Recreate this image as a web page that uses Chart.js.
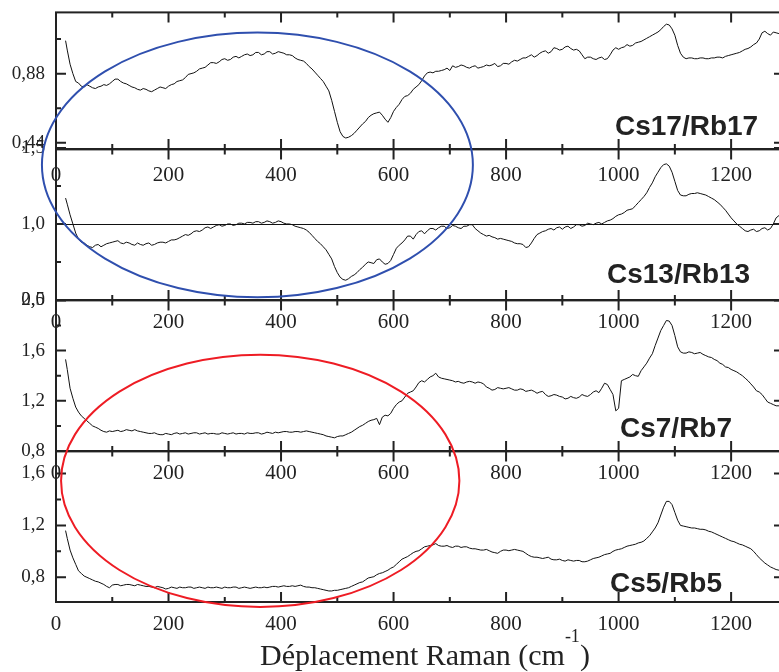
<!DOCTYPE html>
<html>
<head>
<meta charset="utf-8">
<script src="https://cdn.jsdelivr.net/npm/chart.js@4/dist/chart.umd.min.js"></script>
<style>
html,body{margin:0;padding:0;background:#fff;overflow:hidden;width:779px;height:672px;position:relative;}
.panel{position:absolute;left:0;}
#overlay{position:absolute;left:0;top:0;pointer-events:none;}
#xtitle{position:absolute;left:260px;top:640px;font-family:"Liberation Serif",serif;font-size:30px;line-height:30px;color:#222;white-space:nowrap;}
#xtitle sup{font-size:18px;position:relative;top:-4px;vertical-align:top;line-height:0;}
</style>
</head>
<body>
<div id="p0" class="panel"></div>
<div id="p1" class="panel"></div>
<div id="p2" class="panel"></div>
<div id="p3" class="panel"></div>
<canvas id="overlay" width="779" height="672"></canvas>
<div id="xtitle">Déplacement Raman (cm<sup>-1</sup>)</div>
<script>
// ---- data (Raman shift in cm-1, intensity ratios) ----
const WAVENUMBERS = [17, 20, 30, 40, 50, 60, 70, 80, 90,
  100, 110, 120, 130, 140, 150, 160, 170, 180, 190,
  200, 210, 220, 230, 240, 250, 260, 270, 280, 290,
  300, 310, 320, 330, 340, 350, 360, 370, 380, 390,
  400, 410, 420, 430, 440, 450, 460, 470, 480, 490,
  500, 510, 520, 530, 540, 550, 560, 570, 580, 590,
  600, 610, 620, 630, 640, 650, 660, 670, 680, 690,
  700, 710, 720, 730, 740, 750, 760, 770, 780, 790,
  800, 810, 820, 830, 840, 850, 860, 870, 880, 890,
  900, 910, 920, 930, 940, 950, 960, 970, 980, 990,
  1000, 1010, 1020, 1030, 1040, 1050, 1060, 1070, 1080, 1090,
  1100, 1110, 1120, 1130, 1140, 1150, 1160, 1170, 1180, 1190,
  1200, 1210, 1220, 1230, 1240, 1250, 1260, 1270, 1280, 1290];

const MID_WAVENUMBERS = [25, 35, 45, 55, 65, 75, 85, 95,
  105, 115, 125, 135, 145, 155, 165, 175, 185, 195,
  205, 215, 225, 235, 245, 255, 265, 275, 285, 295,
  305, 315, 325, 335, 345, 355, 365, 375, 385, 395,
  405, 415, 425, 435, 445, 455, 465, 475, 485, 495,
  505, 515, 525, 535, 545, 555, 565, 575, 585, 595,
  605, 615, 625, 635, 645, 655, 665, 675, 685, 695,
  705, 715, 725, 735, 745, 755, 765, 775, 785, 795,
  805, 815, 825, 835, 845, 855, 865, 875, 885, 895,
  905, 915, 925, 935, 945, 955, 965, 975, 985, 995,
  1005, 1015, 1025, 1035, 1045, 1055, 1065, 1075, 1085, 1095,
  1105, 1115, 1125, 1135, 1145, 1155, 1165, 1175, 1185, 1195,
  1205, 1215, 1225, 1235, 1245, 1255, 1265, 1275, 1285];

const CS17_RB17 = [1.09, 1.03, 0.88, 0.82, 0.795, 0.80, 0.785, 0.80, 0.805,
  0.83, 0.845, 0.82, 0.805, 0.79, 0.775, 0.78, 0.765, 0.785, 0.79,
  0.80, 0.815, 0.835, 0.855, 0.88, 0.895, 0.915, 0.935, 0.95, 0.955,
  0.975, 0.97, 0.99, 0.99, 1.005, 1.0, 1.015, 1.005, 1.02, 1.01,
  1.015, 1.0, 0.995, 0.97, 0.96, 0.925, 0.89, 0.85, 0.80, 0.71,
  0.57, 0.48, 0.475, 0.50, 0.54, 0.575, 0.615, 0.63, 0.615, 0.57,
  0.64, 0.685, 0.735, 0.755, 0.795, 0.835, 0.885, 0.885, 0.895, 0.905,
  0.90, 0.92, 0.935, 0.92, 0.925, 0.915, 0.925, 0.93, 0.945, 0.93,
  0.945, 0.955, 0.96, 0.98, 0.99, 0.985, 1.01, 1.025, 1.02, 1.04,
  1.035, 1.055, 1.03, 1.025, 0.975, 0.985, 0.97, 0.985, 0.975, 1.03,
  1.035, 1.05, 1.055, 1.075, 1.085, 1.105, 1.125, 1.145, 1.18, 1.19,
  1.125, 1.01, 0.975, 0.98, 0.975, 0.98, 0.975, 0.98, 0.985, 0.99,
  1.0, 1.01, 1.025, 1.04, 1.065, 1.10, 1.15, 1.125, 1.14, 1.13];
const CS17_RB17_MID = [0.94, 0.83, 0.80, 0.81, 0.79, 0.795, 0.81, 0.815,
  0.845, 0.83, 0.815, 0.795, 0.78, 0.785, 0.77, 0.775, 0.795, 0.785,
  0.81, 0.83, 0.84, 0.875, 0.885, 0.91, 0.92, 0.95, 0.945, 0.97,
  0.965, 0.985, 0.98, 1.0, 0.995, 1.015, 1.0, 1.02, 1.005, 1.02,
  1.01, 1.0, 0.98, 0.965, 0.945, 0.91, 0.87, 0.83, 0.77, 0.64,
  0.51, 0.47, 0.485, 0.52, 0.56, 0.60, 0.625, 0.635, 0.59, 0.60,
  0.665, 0.715, 0.74, 0.78, 0.81, 0.865, 0.89, 0.895, 0.90, 0.915,
  0.93, 0.925, 0.93, 0.915, 0.93, 0.92, 0.935, 0.935, 0.925, 0.945,
  0.94, 0.965, 0.97, 0.98, 1.0, 0.995, 1.02, 1.01, 1.045, 1.03,
  1.05, 1.04, 1.035, 1.0, 0.985, 0.975, 0.98, 0.97, 1.0, 1.045,
  1.045, 1.065, 1.06, 1.08, 1.095, 1.115, 1.135, 1.16, 1.195, 1.165,
  1.06, 0.985, 0.98, 0.975, 0.98, 0.975, 0.98, 0.985, 0.98, 0.995,
  1.005, 1.015, 1.035, 1.05, 1.075, 1.14, 1.135, 1.145, 1.135];

const CS13_RB13 = [1.17, 1.13, 1.00, 0.90, 0.875, 0.85, 0.86, 0.85, 0.87,
  0.88, 0.89, 0.87, 0.875, 0.86, 0.865, 0.87, 0.86, 0.875, 0.88,
  0.885, 0.895, 0.91, 0.93, 0.935, 0.955, 0.96, 0.98, 0.98, 0.995,
  0.99, 1.0, 0.995, 1.005, 1.01, 1.005, 1.015, 1.01, 1.015, 1.01,
  1.015, 1.0, 0.995, 0.98, 0.97, 0.945, 0.905, 0.87, 0.83, 0.77,
  0.68, 0.635, 0.64, 0.665, 0.70, 0.735, 0.745, 0.765, 0.75, 0.74,
  0.80, 0.86, 0.895, 0.92, 0.93, 0.955, 0.955, 0.97, 0.975, 0.985,
  0.975, 0.985, 0.97, 0.985, 0.995, 0.955, 0.93, 0.925, 0.91, 0.905,
  0.895, 0.885, 0.87, 0.865, 0.85, 0.905, 0.94, 0.955, 0.97, 0.975,
  0.965, 0.985, 0.98, 0.995, 0.99, 1.0, 1.005, 1.0, 1.02, 1.035,
  1.06, 1.075, 1.095, 1.12, 1.16, 1.205, 1.27, 1.34, 1.39, 1.38,
  1.28, 1.19, 1.185, 1.20, 1.205, 1.195, 1.18, 1.16, 1.13, 1.09,
  1.04, 1.0, 0.97, 0.95, 0.965, 0.955, 0.975, 0.97, 1.04, 1.06];
const CS13_RB13_MID = [1.06, 0.94, 0.88, 0.86, 0.845, 0.865, 0.86, 0.875,
  0.885, 0.875, 0.88, 0.865, 0.875, 0.86, 0.875, 0.865, 0.88, 0.875,
  0.895, 0.90, 0.92, 0.925, 0.95, 0.95, 0.975, 0.97, 0.99, 0.985,
  1.0, 0.99, 1.005, 1.0, 1.01, 1.015, 1.005, 1.02, 1.005, 1.02,
  1.005, 1.0, 0.985, 0.975, 0.96, 0.925, 0.885, 0.85, 0.80, 0.72,
  0.65, 0.63, 0.655, 0.68, 0.715, 0.75, 0.74, 0.77, 0.735, 0.76,
  0.84, 0.875, 0.92, 0.90, 0.95, 0.935, 0.97, 0.96, 0.985, 0.97,
  0.99, 0.975, 0.985, 0.995, 0.97, 0.94, 0.92, 0.915, 0.90, 0.90,
  0.89, 0.875, 0.87, 0.845, 0.875, 0.93, 0.95, 0.965, 0.96, 0.98,
  0.98, 0.97, 0.995, 0.985, 1.005, 0.995, 1.01, 1.01, 1.025, 1.05,
  1.065, 1.09, 1.10, 1.14, 1.18, 1.24, 1.31, 1.37, 1.395, 1.34,
  1.22, 1.185, 1.195, 1.20, 1.20, 1.19, 1.17, 1.145, 1.11, 1.065,
  1.02, 0.985, 0.955, 0.96, 0.95, 0.97, 0.96, 1.0, 1.055];

const CS7_RB7 = [1.53, 1.45, 1.22, 1.11, 1.06, 1.02, 0.99, 0.965, 0.95,
  0.955, 0.965, 0.96, 0.965, 0.97, 0.955, 0.945, 0.94, 0.935, 0.93,
  0.935, 0.94, 0.935, 0.945, 0.94, 0.945, 0.94, 0.935, 0.94, 0.935,
  0.94, 0.94, 0.935, 0.94, 0.945, 0.94, 0.945, 0.94, 0.945, 0.95,
  0.95, 0.955, 0.95, 0.955, 0.955, 0.955, 0.945, 0.935, 0.92, 0.91,
  0.915, 0.92, 0.94, 0.965, 0.995, 1.02, 1.045, 1.06, 1.07, 1.08,
  1.14, 1.19, 1.23, 1.27, 1.31, 1.36, 1.37, 1.40, 1.39, 1.375,
  1.365, 1.35, 1.345, 1.35, 1.35, 1.35, 1.335, 1.30, 1.29, 1.30,
  1.30, 1.295, 1.285, 1.29, 1.28, 1.275, 1.27, 1.25, 1.24, 1.245,
  1.23, 1.22, 1.225, 1.23, 1.24, 1.25, 1.28, 1.30, 1.33, 1.25,
  1.14, 1.37, 1.39, 1.40, 1.44, 1.50, 1.575, 1.70, 1.80, 1.835,
  1.72, 1.59, 1.58, 1.585, 1.58, 1.57, 1.55, 1.53, 1.50, 1.47,
  1.45, 1.43, 1.40, 1.36, 1.31, 1.27, 1.22, 1.18, 1.16, 1.15];
const CS7_RB7_MID = [1.30, 1.15, 1.08, 1.04, 1.0, 0.98, 0.955, 0.96,
  0.96, 0.955, 0.97, 0.96, 0.96, 0.95, 0.94, 0.945, 0.93, 0.94,
  0.93, 0.945, 0.94, 0.935, 0.945, 0.935, 0.945, 0.94, 0.935, 0.945,
  0.935, 0.945, 0.94, 0.935, 0.94, 0.945, 0.935, 0.95, 0.94, 0.945,
  0.955, 0.95, 0.955, 0.95, 0.96, 0.95, 0.94, 0.93, 0.915, 0.905,
  0.92, 0.93, 0.95, 0.98, 1.005, 1.035, 1.05, 1.01, 1.085, 1.10,
  1.17, 1.20, 1.26, 1.28, 1.345, 1.35, 1.39, 1.42, 1.38, 1.37,
  1.36, 1.355, 1.34, 1.355, 1.34, 1.345, 1.31, 1.285, 1.305, 1.295,
  1.305, 1.285, 1.295, 1.275, 1.285, 1.26, 1.275, 1.235, 1.25, 1.235,
  1.215, 1.235, 1.22, 1.25, 1.235, 1.27, 1.265, 1.34, 1.29, 1.12,
  1.36, 1.38, 1.41, 1.395, 1.47, 1.54, 1.64, 1.76, 1.84, 1.80,
  1.63, 1.58, 1.59, 1.575, 1.585, 1.56, 1.545, 1.52, 1.49, 1.465,
  1.44, 1.415, 1.38, 1.335, 1.28, 1.25, 1.19, 1.17, 1.16];

const CS5_RB5 = [1.16, 1.10, 0.95, 0.85, 0.81, 0.79, 0.77, 0.755, 0.73,
  0.74, 0.745, 0.74, 0.745, 0.735, 0.74, 0.73, 0.725, 0.73, 0.72,
  0.715, 0.72, 0.725, 0.72, 0.725, 0.72, 0.72, 0.725, 0.72, 0.72,
  0.725, 0.72, 0.725, 0.72, 0.72, 0.72, 0.72, 0.725, 0.725, 0.73,
  0.73, 0.73, 0.735, 0.735, 0.73, 0.725, 0.72, 0.71, 0.70, 0.695,
  0.70, 0.71, 0.72, 0.74, 0.76, 0.78, 0.80, 0.82, 0.835, 0.855,
  0.88, 0.92, 0.95, 0.975, 1.00, 1.02, 1.04, 1.05, 1.045, 1.04,
  1.035, 1.04, 1.03, 1.035, 1.02, 1.015, 1.01, 1.005, 0.99, 1.00,
  1.01, 1.01, 1.01, 1.0, 0.97, 0.955, 0.95, 0.95, 0.94, 0.935,
  0.93, 0.935, 0.925, 0.93, 0.92, 0.935, 0.95, 0.965, 0.98, 1.0,
  1.015, 1.03, 1.045, 1.055, 1.07, 1.10, 1.15, 1.22, 1.34, 1.385,
  1.30, 1.20, 1.19, 1.18, 1.175, 1.17, 1.155, 1.14, 1.12, 1.10,
  1.08, 1.065, 1.05, 1.03, 1.0, 0.95, 0.91, 0.88, 0.86, 0.85];
const CS5_RB5_MID = [1.01, 0.90, 0.83, 0.80, 0.78, 0.765, 0.745, 0.72,
  0.745, 0.735, 0.745, 0.74, 0.745, 0.735, 0.73, 0.72, 0.725, 0.71,
  0.725, 0.715, 0.72, 0.725, 0.715, 0.725, 0.715, 0.72, 0.725, 0.715,
  0.72, 0.725, 0.715, 0.725, 0.715, 0.725, 0.72, 0.72, 0.73, 0.725,
  0.735, 0.73, 0.73, 0.74, 0.725, 0.72, 0.715, 0.705, 0.695, 0.70,
  0.705, 0.715, 0.73, 0.75, 0.765, 0.795, 0.805, 0.83, 0.845, 0.87,
  0.90, 0.94, 0.96, 0.99, 1.005, 1.035, 1.045, 1.06, 1.04, 1.045,
  1.03, 1.04, 1.035, 1.025, 1.02, 1.01, 1.015, 0.995, 0.985, 1.01,
  1.005, 1.015, 1.005, 0.985, 0.96, 0.955, 0.945, 0.955, 0.935, 0.94,
  0.925, 0.93, 0.93, 0.92, 0.925, 0.945, 0.955, 0.975, 0.985, 1.01,
  1.02, 1.04, 1.05, 1.065, 1.08, 1.12, 1.18, 1.28, 1.385, 1.36,
  1.24, 1.195, 1.185, 1.18, 1.17, 1.165, 1.15, 1.13, 1.11, 1.09,
  1.075, 1.055, 1.04, 1.02, 0.975, 0.93, 0.895, 0.87, 0.855];

const SERIES_NAMES = ["Cs17/Rb17", "Cs13/Rb13", "Cs7/Rb7", "Cs5/Rb5"];
const SERIES = [CS17_RB17, CS13_RB13, CS7_RB7, CS5_RB5];
const SERIES_MID = [CS17_RB17_MID, CS13_RB13_MID, CS7_RB7_MID, CS5_RB5_MID];
const X_TICKS = [0, 200, 400, 600, 800, 1000, 1200];
const X_MINOR = [100, 300, 500, 700, 900, 1100];
const Y_RANGES = [[0.40, 1.27], [0.50, 1.49], [0.80, 2.00], [0.61, 1.77]];
const Y_MAJOR = [[0.44, 0.88], [0.5, 1.0, 1.5], [0.8, 1.2, 1.6, 2.0], [0.8, 1.2, 1.6]];
const Y_MINOR = [[0.66, 1.10], [0.75, 1.25], [1.0, 1.4, 1.8], [1.0, 1.4]];
const Y_DECIMALS = [2, 1, 1, 1];
const REF_LINES = [null, 1.0, null, null];

// ---- layout ----
const PANEL_TOP = [12, 149, 300, 451];
const PANEL_BOTTOM = [149, 300, 451, 602];
const PAD_TOP = 20, XAXIS_H = 45, CW = 800, LEFT_W = 56, RIGHT_PAD = 16;
const X_LABEL_PAD = [14, 10, 10, 10];

const INK = '#222';

const frame = {
  id: 'frame',
  afterDatasetsDraw(chart, args, opts) {
    const {ctx, chartArea: a, scales: {x, y}} = chart;
    ctx.save();
    if (opts.refLine != null) {
      const yy = Math.round(y.getPixelForValue(opts.refLine)) + 0.5;
      ctx.strokeStyle = '#111'; ctx.lineWidth = 1;
      ctx.beginPath(); ctx.moveTo(a.left, yy); ctx.lineTo(a.right, yy); ctx.stroke();
    }
    ctx.strokeStyle = INK; ctx.lineWidth = 2;
    ctx.strokeRect(a.left, a.top, a.right - a.left, a.bottom - a.top);
    ctx.beginPath();
    const xt = (v, len) => {
      const px = x.getPixelForValue(v);
      ctx.moveTo(px, a.bottom); ctx.lineTo(px, a.bottom - len);
      ctx.moveTo(px, a.top); ctx.lineTo(px, a.top + len);
    };
    const yt = (v, len) => {
      const py = y.getPixelForValue(v);
      ctx.moveTo(a.left, py); ctx.lineTo(a.left + len, py);
      ctx.moveTo(a.right, py); ctx.lineTo(a.right - len, py);
    };
    X_TICKS.forEach(v => xt(v, 10));
    X_MINOR.forEach(v => xt(v, 5));
    opts.major.forEach(v => yt(v, 10));
    opts.minor.forEach(v => yt(v, 5));
    ctx.stroke();
    ctx.restore();
  }
};

function buildPanel(i, h) {
  const wrap = document.getElementById('p' + i);
  wrap.innerHTML = '';
  wrap.style.width = CW + 'px';
  wrap.style.height = h + 'px';
  const cv = document.createElement('canvas');
  cv.width = CW; cv.height = h;
  cv.style.width = CW + 'px'; cv.style.height = h + 'px';
  wrap.appendChild(cv);
  const points = WAVENUMBERS.map((w, k) => ({x: w, y: SERIES[i][k]}))
    .concat(MID_WAVENUMBERS.map((w, k) => ({x: w, y: SERIES_MID[i][k]})))
    .sort((p, q) => p.x - q.x);
  return new Chart(cv, {
    type: 'line',
    data: {datasets: [{label: SERIES_NAMES[i], data: points, borderColor: '#111', borderWidth: 1,
      pointRadius: 0, tension: 0, fill: false}]},
    options: {
      responsive: false, maintainAspectRatio: false, animation: false, devicePixelRatio: 1,
      layout: {padding: {top: PAD_TOP, right: RIGHT_PAD, left: 0, bottom: 0}},
      plugins: {legend: {display: false}, tooltip: {enabled: false},
        frame: {major: Y_MAJOR[i], minor: Y_MINOR[i], refLine: REF_LINES[i]}},
      scales: {
        x: {type: 'linear', min: 0, max: 1294,
          afterBuildTicks: s => { s.ticks = X_TICKS.map(v => ({value: v})); },
          afterFit: s => { s.height = XAXIS_H; },
          grid: {display: false, drawTicks: false, tickLength: 0}, border: {display: false},
          ticks: {autoSkip: false, maxRotation: 0, padding: X_LABEL_PAD[i], color: INK,
            font: {family: 'Liberation Serif', size: 21}, callback: v => String(v)}},
        y: {min: Y_RANGES[i][0], max: Y_RANGES[i][1],
          afterBuildTicks: s => { s.ticks = Y_MAJOR[i].map(v => ({value: v})); },
          afterFit: s => { s.width = LEFT_W; },
          grid: {display: false, drawTicks: false, tickLength: 0}, border: {display: false},
          ticks: {padding: 11, color: INK, font: {family: 'Liberation Serif', size: 19},
            callback: v => v.toFixed(Y_DECIMALS[i]).replace('.', ',')}}
      }
    },
    plugins: [frame]
  });
}

const charts = [];
const offs = [];
SERIES.forEach((vals, i) => {
  let h = PANEL_BOTTOM[i] - PANEL_TOP[i] + PAD_TOP + XAXIS_H;
  let chart = buildPanel(i, h);
  const want = PANEL_BOTTOM[i] - PANEL_TOP[i];
  const have = chart.chartArea.bottom - chart.chartArea.top;
  if (Math.abs(want - have) > 0.1) {
    chart.destroy();
    h = Math.round(h + (want - have));
    chart = buildPanel(i, h);
  }
  const off = PANEL_TOP[i] - chart.chartArea.top;
  document.getElementById('p' + i).style.top = off + 'px';
  offs.push(off);
  charts.push(chart);
});

// ---- overlay: sample names and highlight ellipses ----
const ov = document.getElementById('overlay');
const octx = ov.getContext('2d');
const LABEL_POS = [[615, 135], [607, 283], [620, 437], [610, 592]];
octx.fillStyle = INK;
octx.font = 'bold 28px "Liberation Sans"';
SERIES_NAMES.forEach((n, i) => octx.fillText(n, LABEL_POS[i][0], LABEL_POS[i][1]));

// ellipses: x centre and half-width in cm-1, top/bottom as [panel, value]
const ELLIPSES = [
  {color: '#2f4fae', xc: 358, xr: 383, top: [0, 1.139], bottom: [1, 0.515]},
  {color: '#ee1c24', xc: 363, xr: 354, top: [2, 1.564], bottom: [3, 0.569]}
];
ELLIPSES.forEach(e => {
  const xs = charts[0].scales.x;
  const cx = xs.getPixelForValue(e.xc);
  const rx = xs.getPixelForValue(e.xc + e.xr) - cx;
  const t = offs[e.top[0]] + charts[e.top[0]].scales.y.getPixelForValue(e.top[1]);
  const b = offs[e.bottom[0]] + charts[e.bottom[0]].scales.y.getPixelForValue(e.bottom[1]);
  octx.strokeStyle = e.color; octx.lineWidth = 2;
  octx.beginPath();
  octx.ellipse(cx, (t + b) / 2, rx, (b - t) / 2, 0, 0, Math.PI * 2);
  octx.stroke();
});
</script>
</body>
</html>
